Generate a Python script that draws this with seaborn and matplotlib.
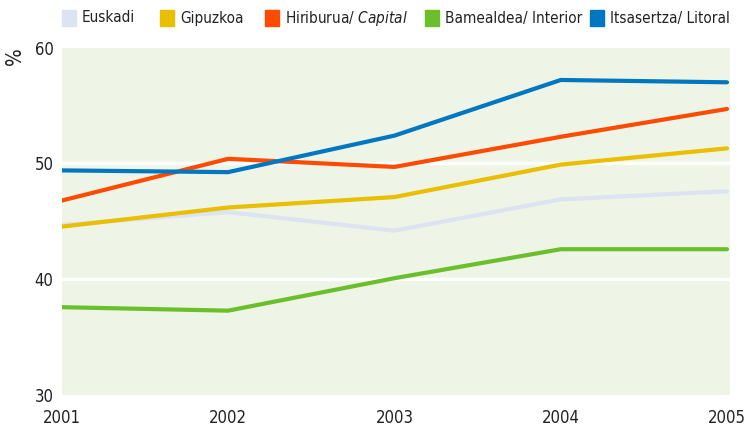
import matplotlib
matplotlib.use("Agg")
import matplotlib.pyplot as plt
from matplotlib.patches import Rectangle
from matplotlib import font_manager
import seaborn as sns
import pandas as pd

# data
years = [2001, 2002, 2003, 2004, 2005]
euskadi = [44.7, 45.8, 44.2, 46.9, 47.6]
gipuzkoa = [44.55, 46.2, 47.1, 49.9, 51.3]
capital = [46.8, 50.4, 49.7, 52.3, 54.7]
interior = [37.6, 37.3, 40.1, 42.6, 42.6]
litoral = [49.4, 49.25, 52.4, 57.2, 57.0]

series_names = ["Euskadi", "Gipuzkoa", "Hiriburua/ Capital",
                "Bamealdea/ Interior", "Itsasertza/ Litoral"]
colors = ["#dce3f3", "#e9bf00", "#ff4b00", "#6abf2a", "#0077c0"]
yticks = [30, 40, 50, 60]

rows = []
for name, vals in zip(series_names, [euskadi, gipuzkoa, capital, interior, litoral]):
    for yr, v in zip(years, vals):
        rows.append({"year": yr, "value": v, "serie": name})
df = pd.DataFrame(rows)

sns.set_theme(style="white", rc={"axes.facecolor": "#eef4e6"})
plt.rcParams["font.family"] = ["DejaVu Sans"]
plt.rcParams["font.stretch"] = "condensed"
print([f.name + " " + str(f.stretch) for f in font_manager.fontManager.ttflist if "Narrow" in f.fname or "Condensed" in f.fname])

fig, ax = plt.subplots(figsize=(7.46, 4.32), dpi=100)
fig.subplots_adjust(left=0.083, right=0.979, top=0.89, bottom=0.085)

sns.lineplot(data=df, x="year", y="value", hue="serie", palette=colors,
             hue_order=series_names, linewidth=3.0, ax=ax, legend=False)

ax.set_xlim(2001, 2005.02)
ax.set_ylim(30, 60)
ax.set_yticks(yticks)
ax.set_xticks(years)
ax.set_xticklabels([str(y) for y in years])
for v in [40, 50]:
    ax.axhline(v, color="white", lw=2.5, zorder=1.5)
for s in ax.spines.values():
    s.set_visible(False)
ax.tick_params(axis="y", length=0, pad=6, labelsize=12, colors="#222222")
ax.tick_params(axis="x", direction="in", length=10, width=1.5, color="white",
               pad=10, labelsize=12, labelcolor="#222222")
ax.set_xlabel("")
ax.set_ylabel("")
ax.text(-0.07, 1.0, "%", transform=ax.transAxes, rotation=90, fontsize=15,
        ha="center", va="top", color="#222222")

# legend: small squares with labels across the top
leg_x = [62, 160, 265, 425, 590]
labels = ["Euskadi", "Gipuzkoa", "Hiriburua/ $\\it{Capital}$",
          "Bamealdea/ Interior", "Itsasertza/ Litoral"]
W, H = 746, 432
for x0, c, lab in zip(leg_x, colors, labels):
    fig.patches.append(Rectangle((x0 / W, 1 - 26 / H), 14 / W, 16 / H,
                                 transform=fig.transFigure, color=c))
    fig.text((x0 + 20) / W, 1 - 18 / H, lab, fontsize=11, va="center",
             ha="left", color="#222222")

fig.savefig("out.png", dpi=100)
